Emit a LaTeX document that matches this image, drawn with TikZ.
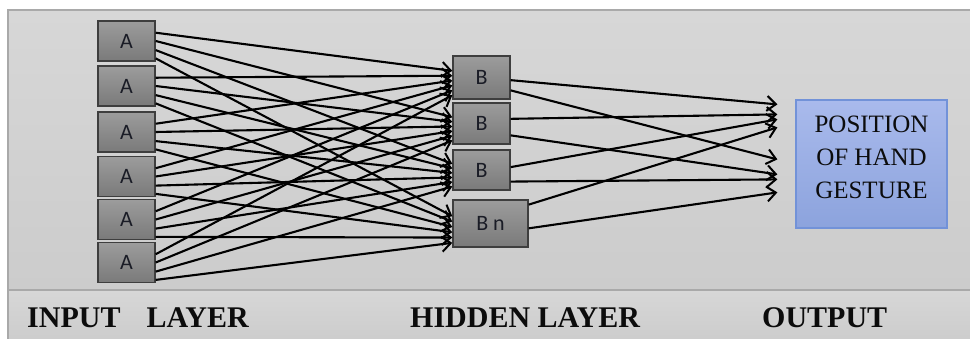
\documentclass[tikz,border=0pt]{standalone}
\usepackage{fontspec}
\setmainfont{Liberation Serif}
\newfontfamily\calibri{Carlito}
\usetikzlibrary{arrows.meta,calc}
\definecolor{paneltop}{HTML}{D7D7D7}
\definecolor{panelbot}{HTML}{CCCCCC}
\definecolor{panelline}{HTML}{A9A9A9}
\definecolor{boxtop}{HTML}{9C9C9C}
\definecolor{boxbot}{HTML}{7A7A7A}
\definecolor{boxline}{HTML}{3E3E3E}
\definecolor{boxtext}{HTML}{1A1C26}
\definecolor{outtop}{HTML}{A9BAEC}
\definecolor{outbot}{HTML}{8CA3DD}
\definecolor{outline}{HTML}{7292D8}
\definecolor{labeltext}{HTML}{0C0C0C}
\begin{document}
\begin{tikzpicture}[x=1pt,y=-1pt,
  unitbox/.style={draw=boxline,line width=1.4pt,top color=boxtop,bottom color=boxbot,
    minimum width=57pt,minimum height=40pt,inner sep=0pt,
    font=\calibri\fontsize{22}{22}\selectfont,text=boxtext},
  outbox/.style={draw=outline,line width=1.2pt,top color=outtop,bottom color=outbot,
    minimum width=151pt,minimum height=128pt,inner sep=0pt},
  layerlabel/.style={anchor=base west,inner sep=0pt,text=labeltext,
    font=\bfseries\fontsize{30}{30}\selectfont},
  conn/.style={line width=2.1pt,black,-{Straight Barb[length=9pt,width=15pt,line width=2pt]}}
]
\useasboundingbox (0,0) rectangle (970,339);
% panel
\shade[top color=paneltop,bottom color=panelbot] (8,10) rectangle (972,290);
\shade[top color=paneltop,bottom color=panelbot] (8,290) rectangle (972,341);
\draw[panelline,line width=1.2pt] (8,341) -- (8,10) -- (972,10);
\draw[panelline,line width=1.2pt] (8,290) -- (972,290);

% input layer
\node[unitbox] (A1) at (126.5,41) {A};
\node[unitbox] (A2) at (126.5,86) {A};
\node[unitbox] (A3) at (126.5,132) {A};
\node[unitbox] (A4) at (126.5,176.5) {A};
\node[unitbox] (A5) at (126.5,219.5) {A};
\node[unitbox] (A6) at (126.5,262.5) {A};

% hidden layer
\node[unitbox,minimum height=43pt] (B1) at (481.5,77.5) {B};
\node[unitbox,minimum height=41pt] (B2) at (481.5,123.5) {B};
\node[unitbox] (B3) at (481.5,170) {B};
\node[unitbox,minimum width=75pt,minimum height=47pt] (B4) at (490.5,223.5) {B n};

% output
\node[outbox] (out) at (871.5,164) {};
\node[align=center,inner sep=0pt,text=labeltext,
  font=\fontsize{25}{33}\selectfont] (outlbl) at ($(out.center)+(0,-7)$)
  {POSITION\\OF HAND\\GESTURE};

% input -> hidden
\foreach \i in {1,...,6}{
  \foreach \j/\f in {1/0.3,2/0.5,3/0.72,4/0.92}{
    \pgfmathsetmacro\g{0.35+(\i-1)*0.11}
    \draw[conn] ($(A\i.north east)!\f!(A\i.south east)$) -- ($(B\j.north west)!\g!(B\j.south west)$);
  }
}

% hidden -> output
\foreach \j/\f/\d in {1/0.56/5,1/0.79/60,2/0.39/15,2/0.78/75,3/0.43/20,3/0.78/80,4/0.11/28,4/0.6/93}{
  \draw[conn] ($(B\j.north east)!\f!(B\j.south east)$) -- ($(out.north west)+(-18,\d)$);
}

% labels
\node[layerlabel] (lin) at (27,327) {INPUT\hspace{26pt}LAYER};
\node[layerlabel] (lhid) at (410,327) {HIDDEN LAYER};
\node[layerlabel] (lout) at (762,327) {OUTPUT};
\end{tikzpicture}
\end{document}
